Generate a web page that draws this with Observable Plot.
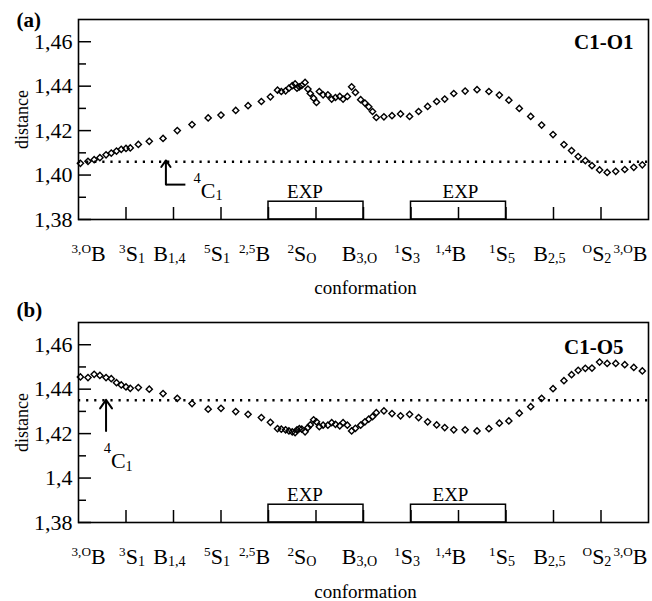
<!DOCTYPE html>
<html><head><meta charset="utf-8">
<script src="https://cdn.jsdelivr.net/npm/d3@7"></script>
<script src="https://cdn.jsdelivr.net/npm/@observablehq/plot@0.6"></script>
<style>body{margin:0;background:#fff}#chart svg{display:block}</style>
</head><body><div id="chart"></div>
<script>
// ---- data ----
const conformations = ["^{3,O}B","^{3}S_{1}","B_{1,4}","^{5}S_{1}","^{2,5}B","^{2}S_{O}","B_{3,O}","^{1}S_{3}","^{1,4}B","^{1}S_{5}","B_{2,5}","^{O}S_{2}","^{3,O}B"];
const pathPos = [0.04,0.2,0.33,0.45,0.58,0.69,0.8,0.9,1.0,1.09,1.26,1.49,1.78,2.08,2.39,2.73,3.0,3.31,3.57,3.85,
  4.04,4.19,4.27,4.36,4.43,4.5,4.56,4.6,4.65,4.7,4.77,4.83,4.88,4.95,5.01,5.07,5.15,5.25,5.33,5.41,5.5,5.57,5.66,5.75,5.83,5.94,6.03,6.11,6.19,6.27,
  6.43,6.6,6.78,6.97,7.16,7.35,7.54,7.71,7.9,8.14,8.39,8.64,8.86,9.06,9.28,9.52,9.75,9.99,10.22,10.38,10.52,10.67,10.81,10.97,11.13,11.31,11.5,11.69,11.87];
const c1o1 = [1.4053,1.4062,1.4069,1.4078,1.4091,1.4099,1.4108,1.4116,1.412,1.4122,1.4138,1.4152,1.4165,1.42,1.4227,1.4257,1.427,1.4291,1.4312,1.4331,
  1.4352,1.4382,1.4376,1.4379,1.4391,1.4402,1.441,1.4391,1.4397,1.4403,1.4417,1.4387,1.4367,1.4346,1.4327,1.4376,1.4361,1.4361,1.4342,1.4349,1.4354,1.4342,1.4354,1.4397,1.4372,1.4339,1.4324,1.4307,1.4286,1.4259,
  1.4262,1.4267,1.4275,1.4264,1.4286,1.4309,1.4331,1.4342,1.4367,1.4378,1.4384,1.4376,1.436,1.4337,1.43,1.4264,1.4225,1.4182,1.4137,1.411,1.4083,1.4065,1.4042,1.4023,1.4012,1.4017,1.4025,1.4035,1.4046];
const c1o5 = [1.4455,1.4452,1.4467,1.4462,1.4452,1.4447,1.4429,1.4419,1.441,1.4404,1.4407,1.44,1.438,1.4359,1.4335,1.431,1.4314,1.4299,1.4287,1.4272,
  1.4251,1.4222,1.422,1.4217,1.4212,1.4208,1.4204,1.4217,1.4222,1.422,1.4208,1.4227,1.4239,1.4262,1.4253,1.4231,1.4238,1.4238,1.4249,1.4242,1.4235,1.4249,1.4238,1.4212,1.4224,1.4238,1.4253,1.4265,1.4276,1.4294,
  1.4302,1.429,1.428,1.4287,1.4272,1.4253,1.4239,1.4227,1.4217,1.4217,1.4212,1.4222,1.4247,1.4257,1.4292,1.4321,1.4359,1.4402,1.4438,1.4465,1.4485,1.4494,1.4495,1.4522,1.4516,1.4516,1.451,1.4498,1.4482];
const refC1O1 = [1.406];
const refC1O5 = [1.435];
const expStart = [4, 7];
const expEnd = [6, 9];
const expTop = 1.388;
const yTicks = [1.38, 1.40, 1.42, 1.44, 1.46];
const yMinor = [1.39, 1.41, 1.43, 1.45];
const yLabelsA = ["1,38","1,40","1,42","1,44","1,46"];
const yLabelsB = ["1,38","1,4","1,42","1,44","1,46"];
const xTicks = [1,2,3,4,5,6,7,8,9,10,11];
const arrowA = {x: 1.84, yFrom: 1.3957, yTo: 1.4066, footTo: 2.25, labelX: 2.42, labelY: 1.3899};
const arrowB = {x: 0.58, yFrom: 1.4212, yTo: 1.4352, labelX: 0.53, labelY: 1.4046};

const FONT = "'Liberation Serif','Times New Roman',serif";

// tick-label mark for a group of conformation indices (hand-placed label nudges in the original)
function labelMark(indices, dx, textAnchor) {
  return Plot.text(indices, {x: i => i, text: i => conformations[i], frameAnchor: "bottom", lineAnchor: "bottom", dy: 41, dx, textAnchor, fontSize: 22});
}

function panel({values, ref, yLabels, tag, name, nameDx, nameDy, tagDy, marginTop, marginBottom, height, arrow, foot, confDy, expDx}) {
  const pts = pathPos.map((x, i) => ({x, y: values[i]}));
  const marks = [
    Plot.ruleY(ref, {stroke: "black", strokeWidth: 2.4, strokeDasharray: "2.2,5.9"}),
    Plot.rect([0, 1], {x1: i => expStart[i], x2: i => expEnd[i], y1: () => 1.38, y2: () => expTop, stroke: "black", strokeWidth: 1.5, fill: "none"}),
    ...[0, 1].map(k => Plot.text([k], {x: i => (expStart[i] + expEnd[i]) / 2, text: () => "EXP", frameAnchor: "bottom", textAnchor: "middle", lineAnchor: "bottom", dy: -22, dx: expDx[k], fontSize: 19})),
    Plot.tickY(yTicks, {y: d => d, insetRight: 570 - 13, stroke: "black", strokeWidth: 1.5}),
    Plot.tickY(yMinor, {y: d => d, insetRight: 570 - 8, stroke: "black", strokeWidth: 1.5}),
    Plot.tickX(xTicks, {x: d => d, insetTop: 200 - 12, stroke: "black", strokeWidth: 1.5}),
    Plot.frame({stroke: "black", strokeWidth: 1.6}),
    Plot.axisY({ticks: yTicks, tickFormat: d => yLabels[yTicks.indexOf(d)], tickSize: 0, tickPadding: 6, fontSize: 22, label: null}),
    labelMark([0], -7, "start"),
    labelMark([1], 6, "middle"),
    labelMark([2, 3, 6, 7, 9, 10, 11], -4, "middle"),
    labelMark([4, 5], -14, "middle"),
    labelMark([8], -8, "middle"),
    labelMark([12], -1, "end"),
    Plot.dot(pts, {x: "x", y: "y", symbol: "diamond2", r: 2.8, stroke: "black", strokeWidth: 1.4, fill: "none"}),
    Plot.arrow([arrow], {x1: d => d.x, x2: d => d.x, y1: d => d.yFrom, y2: d => d.yTo, stroke: "black", strokeWidth: 2, headLength: 8, headAngle: 70}),
    Plot.text([arrow], {x: d => d.labelX, y: d => d.labelY, text: () => "^^{4}C_{1}", textAnchor: "start", lineAnchor: "bottom", fontSize: 22}),
    Plot.text([tag], {frameAnchor: "top-left", dx: -62, dy: tagDy, textAnchor: "start", lineAnchor: "bottom", fontSize: 21, fontWeight: "bold"}),
    Plot.text([name], {frameAnchor: "top-right", dx: nameDx, dy: nameDy, textAnchor: "end", lineAnchor: "bottom", fontSize: 21, fontWeight: "bold"}),
    Plot.text(["distance"], {frameAnchor: "left", rotate: -90, textAnchor: "middle", lineAnchor: "middle", dx: -56, fontSize: 18}),
    Plot.text(["conformation"], {frameAnchor: "bottom", textAnchor: "middle", lineAnchor: "bottom", dy: confDy, dx: 2, fontSize: 19})
  ];
  if (foot) marks.push(Plot.link([arrow], {x1: d => d.x, x2: d => d.footTo, y1: d => d.yFrom, y2: d => d.yFrom, stroke: "black", strokeWidth: 2}));
  return Plot.plot({
    width: 652, height, marginLeft: 78, marginRight: 4, marginTop, marginBottom,
    x: {domain: [0, 12], axis: null},
    y: {domain: [1.38, 1.47]},
    style: {fontFamily: FONT, fontSize: "21px", background: "white", color: "black", overflow: "visible"},
    marks
  });
}

function richify(svg) {
  for (const t of svg.querySelectorAll("text")) {
    const s = t.textContent;
    if (!/[\^_]\{/.test(s)) continue;
    const F = parseFloat(getComputedStyle(t).fontSize);
    const parts = s.match(/\^\^\{[^}]*\}|\^\{[^}]*\}|_\{[^}]*\}|[^\^_]+/g);
    t.textContent = "";
    let shift = 0;
    for (const p of parts) {
      let txt = p, size = F, target = 0;
      if (p.startsWith("^^{")) { txt = p.slice(3, -1); size = 0.66 * F; target = -0.66 * F; }
      else if (p.startsWith("^{")) { txt = p.slice(2, -1); size = 0.6 * F; target = -0.36 * F; }
      else if (p.startsWith("_{")) { txt = p.slice(2, -1); size = 0.64 * F; target = 0.13 * F; }
      const ts = document.createElementNS("http://www.w3.org/2000/svg", "tspan");
      ts.setAttribute("font-size", size.toFixed(1));
      ts.setAttribute("dy", (target - shift).toFixed(2));
      shift = target;
      ts.textContent = txt;
      t.appendChild(ts);
    }
  }
}

const root = document.getElementById("chart");
const a = panel({values: c1o1, ref: refC1O1, yLabels: yLabelsA, tag: "(a)", name: "C1-O1", nameDx: -15, nameDy: 29, tagDy: 7,
  marginTop: 19, marginBottom: 81, height: 300, arrow: arrowA, foot: true, confDy: 74, expDx: [-11, 2]});
const b = panel({values: c1o5, ref: refC1O5, yLabels: yLabelsB, tag: "(b)", name: "C1-O5", nameDx: -25, nameDy: 31, tagDy: -6,
  marginTop: 22, marginBottom: 79, height: 301, arrow: arrowB, foot: false, confDy: 75, expDx: [-11, -8]});
root.appendChild(a);
root.appendChild(b);
richify(a);
richify(b);
</script></body></html>
